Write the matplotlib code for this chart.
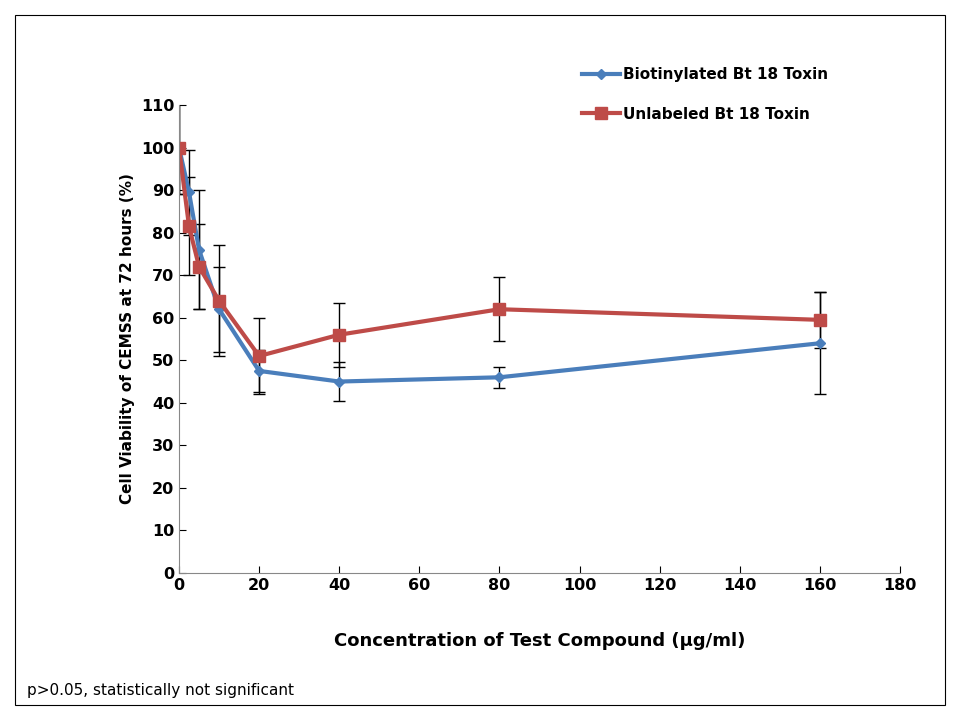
import matplotlib
matplotlib.use('Agg')
import matplotlib.pyplot as plt
from matplotlib.patches import Rectangle

conc = [0, 2.5, 5, 10, 20, 40, 80, 160]
biotin = [100, 89.5, 76, 62, 47.5, 45, 46, 54]
biotin_err = [11, 10, 14, 10, 5, 4.5, 2.5, 12]
unlab = [100, 81.5, 72, 64, 51, 56, 62, 59.5]
unlab_err = [11, 11.5, 10, 13, 9, 7.5, 7.5, 6.5]

fig = plt.figure(figsize=(9.6, 7.2), dpi=100)
fig.patches.append(Rectangle((15/960, 15/720), 930/960, 690/720, transform=fig.transFigure,
                             fill=False, edgecolor='black', linewidth=0.8))
ax = fig.add_axes([179/960, 1-573/720, 721/960, 468/720])

b = ax.errorbar(conc, biotin, yerr=biotin_err, color='#4a7ebb', marker='D', markersize=5,
                linewidth=3, ecolor='black', elinewidth=1, capsize=4)
u = ax.errorbar(conc, unlab, yerr=unlab_err, color='#be4b48', marker='s', markersize=9,
                linewidth=3, ecolor='black', elinewidth=1, capsize=4)

ax.set_xlim(0, 180)
ax.set_ylim(0, 110)
ax.set_xticks(range(0, 181, 20))
ax.set_yticks(range(0, 111, 10))
ax.tick_params(labelsize=11.5, direction='in', length=5)
for lab in ax.get_xticklabels() + ax.get_yticklabels():
    lab.set_fontweight('bold')
for s in ['top', 'right']:
    ax.spines[s].set_visible(False)
ax.spines['left'].set_color('#888888')
ax.spines['bottom'].set_color('#888888')

ax.set_ylabel('Cell Viability of CEMSS at 72 hours (%)', fontsize=11, fontweight='bold')
ax.set_xlabel('Concentration of Test Compound (\u00b5g/ml)', fontsize=13, fontweight='bold', labelpad=28)
ax.legend([b[0], u[0]], ['Biotinylated Bt 18 Toxin', 'Unlabeled Bt 18 Toxin'],
          loc='upper left', bbox_to_anchor=(0.54, 1.11), frameon=False,
          prop={'weight': 'bold', 'size': 11}, labelspacing=1.6, handlelength=2.5,
          handletextpad=0.2)

fig.text(27/960, 1-690/720, 'p>0.05, statistically not significant', fontsize=11, va='center')
fig.savefig('out.png', dpi=100)
